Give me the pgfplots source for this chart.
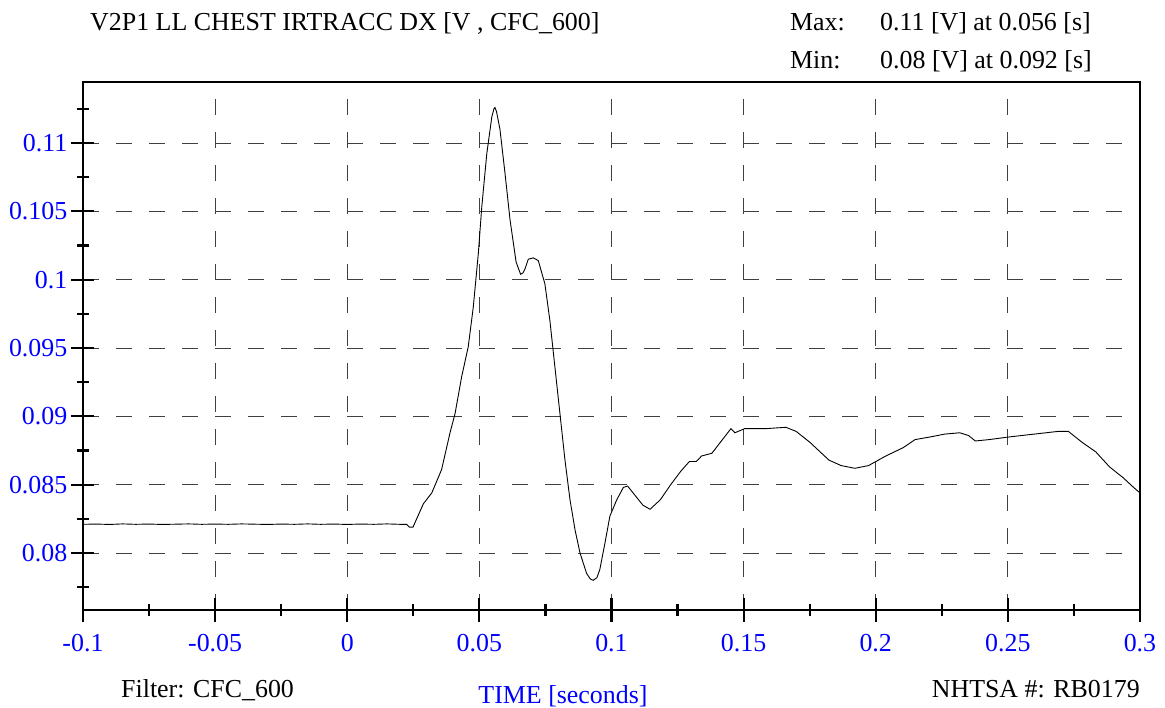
\documentclass[border=0pt]{standalone}
\usepackage{fontspec}
\setmainfont{Liberation Serif}
\usepackage{pgfplots}
\pgfplotsset{compat=1.18}
\definecolor{tickblue}{RGB}{0,0,255}

\begin{document}
\fontsize{26}{30}\selectfont
\begin{tikzpicture}
\useasboundingbox (-83bp,-98bp) rectangle (1082bp,610bp);
\begin{axis}[
    at={(0,0)}, anchor=south west,
    scale only axis,
    width=1057bp, height=528bp,
    xmin=-0.1, xmax=0.3,
    ymin=0.07583, ymax=0.11447,
    xtick={-0.1,-0.05,0,0.05,0.1,0.15,0.2,0.25,0.3},
    xticklabels={-0.1,-0.05,0,0.05,0.1,0.15,0.2,0.25,0.3},
    minor xtick={-0.075,-0.025,0.025,0.075,0.125,0.175,0.225,0.275},
    ytick={0.08,0.085,0.09,0.095,0.1,0.105,0.11},
    yticklabels={0.08,0.085,0.09,0.095,0.1,0.105,0.11},
    minor ytick={0.0775,0.0825,0.0875,0.0925,0.0975,0.1025,0.1075,0.1125},
    scaled ticks=false,
    tickpos=left,
    tick align=center,
    major tick length=23bp,
    minor tick length=12bp,
    every tick/.style={black, line width=2.2bp},
    grid=major,
    major grid style={black!75, line width=1bp, dash pattern=on 16bp off 17bp},
    axis line style={black, line width=2.5bp},
    xticklabel style={anchor=north, inner sep=0pt, yshift=-13bp, text=tickblue},
    yticklabel style={anchor=east, inner sep=0pt, xshift=-4bp, text=tickblue},
    clip=true,
]
\addplot[black, line width=0.9bp] coordinates {
(-0.1,0.0821) (-0.095,0.08212) (-0.09,0.08209) (-0.085,0.08213) (-0.08,0.0821)
(-0.075,0.08212) (-0.07,0.08209) (-0.065,0.08211) (-0.06,0.08213) (-0.055,0.0821)
(-0.05,0.08212) (-0.045,0.0821) (-0.04,0.08213) (-0.035,0.08211) (-0.03,0.08209)
(-0.025,0.08212) (-0.02,0.0821) (-0.015,0.08213) (-0.01,0.0821) (-0.005,0.08212)
(0,0.08209) (0.005,0.08212) (0.01,0.0821) (0.015,0.08213) (0.02,0.0821)
(0.0225,0.0821) (0.0235,0.0819) (0.0249,0.0819) (0.0265,0.0826)
(0.0288,0.0836) (0.032,0.0844) (0.0357,0.0861) (0.0389,0.0888) (0.0408,0.0902)
(0.0433,0.0929) (0.0458,0.0951) (0.0477,0.0980) (0.0496,0.1019) (0.0509,0.1053)
(0.0528,0.1092) (0.0547,0.1119) (0.0555,0.1125) (0.0559,0.1126) (0.0565,0.1123)
(0.0578,0.1110) (0.0597,0.1078)
(0.0616,0.1044) (0.0639,0.1013) (0.0656,0.1004) (0.0665,0.1005) (0.0673,0.1008) (0.0685,0.1015)
(0.0704,0.1016) (0.0723,0.1014) (0.0748,0.0997) (0.0767,0.0970) (0.0786,0.0936)
(0.0805,0.0902) (0.0824,0.0868) (0.0843,0.0839) (0.0862,0.0817) (0.0881,0.0800)
(0.0906,0.0785) (0.0920,0.0781) (0.0931,0.0780) (0.0945,0.0782) (0.0956,0.0788) (0.0975,0.0807) (0.0994,0.0827)
(0.1020,0.0839) (0.1045,0.0848) (0.1061,0.0849) (0.1094,0.0841) (0.1119,0.0835)
(0.1146,0.0832) (0.1185,0.0839) (0.1224,0.0850) (0.1263,0.0860) (0.1295,0.0867)
(0.1321,0.0867) (0.1341,0.0871) (0.1380,0.0873) (0.1412,0.0881) (0.1452,0.0891)
(0.1467,0.0888) (0.1504,0.0891) (0.1582,0.0891) (0.1660,0.0892) (0.1699,0.0889)
(0.1751,0.0881) (0.1823,0.0868) (0.1869,0.0864) (0.1921,0.0862) (0.1973,0.0864)
(0.2038,0.0871) (0.2103,0.0877) (0.2149,0.0883) (0.2208,0.0885) (0.2260,0.0887)
(0.2318,0.0888) (0.2351,0.0886) (0.2377,0.0882) (0.2429,0.0883) (0.2507,0.0885)
(0.2599,0.0887) (0.2690,0.0889) (0.2729,0.0889) (0.2781,0.0881) (0.2833,0.0874)
(0.2885,0.0863) (0.2937,0.0855) (0.2976,0.0848) (0.3,0.0844)
};
\end{axis}
\node[anchor=base west, inner sep=0pt] at (7bp,579bp) {V2P1 LL CHEST IRTRACC DX [V , CFC\_600]};
\node[anchor=base west, inner sep=0pt] at (707bp,579bp) {Max:};
\node[anchor=base west, inner sep=0pt] at (797bp,579bp) {0.11 [V] at 0.056 [s]};
\node[anchor=base west, inner sep=0pt] at (707bp,541bp) {Min:};
\node[anchor=base west, inner sep=0pt] at (797bp,541bp) {0.08 [V] at 0.092 [s]};
\node[anchor=base west, inner sep=0pt] at (38bp,-87bp) {Filter: CFC\_600};
\node[anchor=base, inner sep=0pt, text=tickblue] at (480bp,-93bp) {TIME [seconds]};
\node[anchor=base east, inner sep=0pt] at (1057bp,-87bp) {NHTSA \#: RB0179};
\end{tikzpicture}
\end{document}
